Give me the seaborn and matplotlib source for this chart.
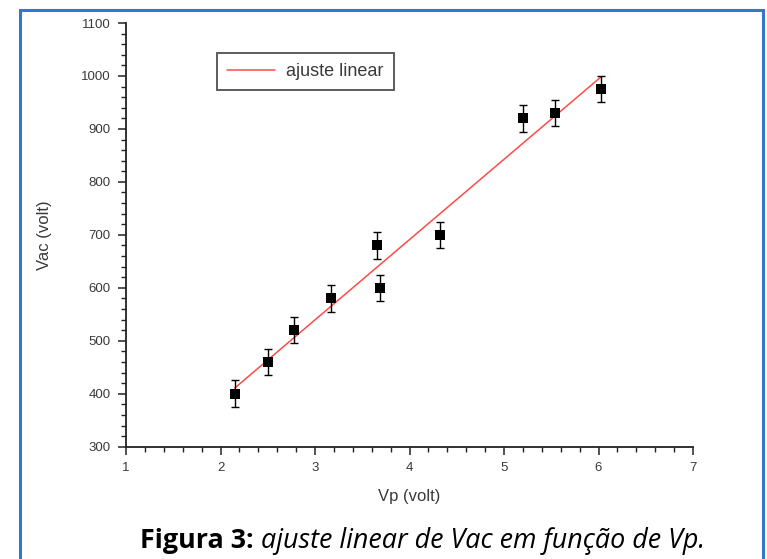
import numpy as np
import pandas as pd
import matplotlib
matplotlib.use("Agg")
import matplotlib.pyplot as plt
from matplotlib.patches import Rectangle
from matplotlib.ticker import MultipleLocator
import seaborn as sns

# Measured plate voltage and AC voltage
vp = [2.15, 2.50, 2.78, 3.17, 3.66, 3.69, 4.32, 5.20, 5.54, 6.03]
vac = [400, 460, 520, 580, 680, 600, 700, 920, 930, 975]
vac_err = [25, 25, 25, 25, 25, 25, 25, 25, 25, 25]

x_ticks = [1, 2, 3, 4, 5, 6, 7]
y_ticks = [300, 400, 500, 600, 700, 800, 900, 1000, 1100]

x_label = "Vp (volt)"
y_label = "Vac (volt)"
legend_label = "ajuste linear"
caption_bold = "Figura 3:"
caption_italic = " ajuste linear de Vac em função de Vp."

df = pd.DataFrame({"Vp": vp, "Vac": vac, "err": vac_err})

sns.set_theme(style="ticks")
plt.rcParams["font.family"] = ["Liberation Sans", "DejaVu Sans"]

W, H = 767, 559
fig = plt.figure(figsize=(W / 100, H / 100), dpi=100, facecolor="white")
ax = fig.add_axes([126 / W, 1 - 446.7 / H, (693 - 126) / W, (446.7 - 23) / H])
ax.set_facecolor("white")

text_col = "#3a3a3a"

# least-squares line over the data range
sns.regplot(data=df, x="Vp", y="Vac", scatter=False, ci=None, ax=ax,
            label=legend_label, line_kws=dict(color="#ff4a4a", lw=1.1))
fit_line = ax.lines[-1]

# measurements with error bars
ax.errorbar(df["Vp"], df["Vac"], yerr=df["err"], fmt="none", ecolor="black",
            elinewidth=1.0, capsize=3.2, capthick=1.0, zorder=3)
sns.scatterplot(data=df, x="Vp", y="Vac", marker="s", s=52, color="black",
                edgecolor="black", linewidth=0, ax=ax, zorder=4, legend=False)

ax.set_xlim(1, 7)
ax.set_ylim(300, 1100)
ax.set_xticks(x_ticks)
ax.set_yticks(y_ticks)
ax.xaxis.set_minor_locator(MultipleLocator(0.2))
ax.yaxis.set_minor_locator(MultipleLocator(20))

for side in ["top", "right"]:
    ax.spines[side].set_visible(False)
for side in ["left", "bottom"]:
    ax.spines[side].set_color("#222222")
    ax.spines[side].set_linewidth(1.3)

ax.tick_params(which="major", direction="out", length=6, width=1.1,
               color="#222222", labelsize=9.5, labelcolor=text_col, pad=5)
ax.tick_params(which="minor", direction="out", length=3.5, width=1.0,
               color="#222222")

ax.set_xlabel(x_label, fontsize=12, color=text_col, labelpad=11)
ax.set_ylabel(y_label, fontsize=12, color=text_col, labelpad=21)

fit_line.set_label(legend_label)
leg = ax.legend(handles=[fit_line], labels=[legend_label],
                loc="upper left", bbox_to_anchor=(0.16, 0.9285),
                borderaxespad=0, frameon=True, fancybox=False,
                handlelength=2.7, handletextpad=0.6, fontsize=13,
                borderpad=0.55, labelcolor=text_col)
leg.get_frame().set_edgecolor("#333333")
leg.get_frame().set_linewidth(1.4)

# caption below the plot, sized to span its line
cap_font = ["Open Sans", "DejaVu Sans"]
renderer = fig.canvas.get_renderer()
cap_left, cap_right, cap_y = 140, 707, 1 - 541 / H


def draw_caption(size):
    a = fig.text(cap_left / W, cap_y, caption_bold, fontsize=size,
                 fontweight="bold", family=cap_font, color="black", va="center")
    bb = a.get_window_extent(renderer)
    b = fig.text(bb.x1 / W, cap_y, caption_italic, fontsize=size,
                 fontstyle="italic", family=cap_font, color="black", va="center")
    return a, b


a, b = draw_caption(16)
span = b.get_window_extent(renderer).x1 - cap_left
a.remove()
b.remove()
draw_caption(16 * (cap_right - cap_left) / span)

# blue frame around the figure content
fig.patches.append(Rectangle((19.5 / W, -0.05), (763 - 19.5) / W, 1.05 - 10 / H,
                             transform=fig.transFigure, fill=False,
                             edgecolor="#2f78d2", linewidth=2.2, clip_on=False))

fig.savefig("out.png", dpi=100, facecolor="white")
